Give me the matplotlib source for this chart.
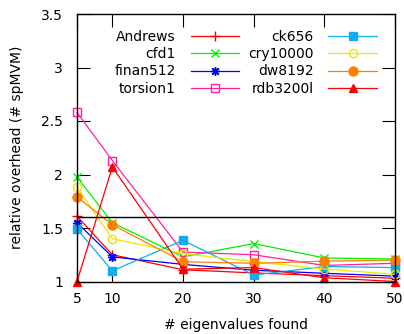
import matplotlib
matplotlib.use("Agg")
import matplotlib.pyplot as plt

plt.rcParams['font.family'] = ['DejaVu Sans']
plt.rcParams['font.size'] = 10

eigenvalues = [5, 10, 20, 30, 40, 50]
series_names = ["Andrews", "cfd1", "finan512", "torsion1",
                "ck656", "cry10000", "dw8192", "rdb3200l"]
andrews  = [1.61, 1.25, 1.11, 1.08, 1.055, 1.03]
cfd1     = [1.975, 1.55, 1.23, 1.355, 1.22, 1.21]
finan512 = [1.55, 1.23, 1.16, 1.105, 1.077, 1.05]
torsion1 = [2.58, 2.13, 1.275, 1.25, 1.15, 1.17]
ck656    = [1.49, 1.10, 1.385, 1.06, 1.14, 1.13]
cry10000 = [1.88, 1.40, 1.26, 1.185, 1.117, 1.067]
dw8192   = [1.79, 1.53, 1.185, 1.17, 1.19, 1.20]
rdb3200l = [1.00, 2.07, 1.115, 1.13, 1.035, 1.00]
reference_level = 1.6

values = [andrews, cfd1, finan512, torsion1, ck656, cry10000, dw8192, rdb3200l]
colors = ['#ff0000', '#00f000', '#0000ff', '#ff20a0',
          '#10aef0', '#f5e400', '#ff8000', '#ff0000']
markers = ['+', 'x', (8, 2, 0), 's', 's', 'o', 'o', '^']
filled = [True, True, True, False, True, False, True, True]
msizes = [7, 5.5, 6.5, 6, 6, 6, 6.5, 5.5]

fig = plt.figure(figsize=(4.04, 3.34), dpi=100)
ax = fig.add_axes([77/404, 1-281.5/334, (395-77)/404, (281.5-14)/334])

for name, vals, c, m, f, ms in zip(series_names, values, colors, markers, filled, msizes):
    ax.plot(eigenvalues, vals, color=c, lw=0.9, marker=m, ms=ms,
            markerfacecolor=(c if f else 'none'), markeredgecolor=c,
            markeredgewidth=1.0, label=name, clip_on=False)

ax.axhline(reference_level, color='black', lw=1.0)

ax.set_xlim(5, 50)
ax.set_ylim(1, 3.5)
ax.set_xticks(eigenvalues)
ax.set_yticks([1, 1.5, 2, 2.5, 3, 3.5])
ax.set_yticklabels(['1', '1.5', '2', '2.5', '3', '3.5'])
ax.tick_params(direction='in', length=9.5, width=0.8, top=True, right=True,
               labelsize=10)
ax.tick_params(axis='x', pad=7.5)
ax.tick_params(axis='y', pad=10)
for s in ax.spines.values():
    s.set_linewidth(1.0)

ax.set_xlabel('# eigenvalues found', fontsize=10, labelpad=9)
ax.set_ylabel('relative overhead (# spMVM)', fontsize=10, labelpad=12)

leg = ax.legend(ncol=2, loc='upper right', bbox_to_anchor=(0.943, 0.94),
                frameon=False, markerfirst=False, numpoints=1,
                handlelength=3.5, handletextpad=1.05, columnspacing=0.65,
                labelspacing=0.23, borderpad=0, borderaxespad=0, fontsize=10)

fig.savefig('out.png', dpi=100)
